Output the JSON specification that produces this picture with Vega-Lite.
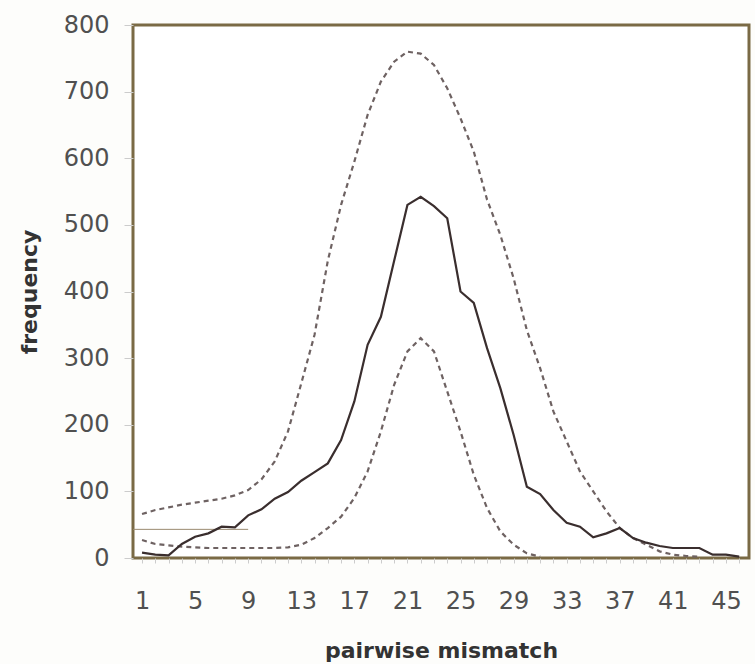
{
  "$schema": "https://vega.github.io/schema/vega-lite/v6.json",
  "width": 616,
  "height": 533,
  "autosize": "none",
  "padding": {"left": 133, "top": 25, "right": 6, "bottom": 106},
  "background": "#fdfdfb",
  "config": {
    "view": {"stroke": "#7a6a45", "strokeWidth": 3, "fill": "white"},
    "font": "DejaVu Sans"
  },
  "datasets": {
    "obs": [
      {"k":1,"v":8},{"k":2,"v":5},{"k":3,"v":4},{"k":4,"v":21},{"k":5,"v":32},{"k":6,"v":37},{"k":7,"v":47},{"k":8,"v":46},{"k":9,"v":64},{"k":10,"v":73},
      {"k":11,"v":89},{"k":12,"v":99},{"k":13,"v":116},{"k":14,"v":129},{"k":15,"v":142},{"k":16,"v":177},{"k":17,"v":235},{"k":18,"v":320},{"k":19,"v":362},{"k":20,"v":446},
      {"k":21,"v":530},{"k":22,"v":542},{"k":23,"v":528},{"k":24,"v":510},{"k":25,"v":400},{"k":26,"v":383},{"k":27,"v":315},{"k":28,"v":255},{"k":29,"v":185},{"k":30,"v":107},
      {"k":31,"v":96},{"k":32,"v":72},{"k":33,"v":53},{"k":34,"v":47},{"k":35,"v":31},{"k":36,"v":37},{"k":37,"v":45},{"k":38,"v":30},{"k":39,"v":23},{"k":40,"v":18},
      {"k":41,"v":15},{"k":42,"v":15},{"k":43,"v":15},{"k":44,"v":5},{"k":45,"v":5},{"k":46,"v":2}
    ],
    "upper": [
      {"k":1,"v":66},{"k":2,"v":72},{"k":3,"v":76},{"k":4,"v":80},{"k":5,"v":83},{"k":6,"v":86},{"k":7,"v":89},{"k":8,"v":94},{"k":9,"v":102},{"k":10,"v":118},
      {"k":11,"v":145},{"k":12,"v":190},{"k":13,"v":262},{"k":14,"v":335},{"k":15,"v":446},{"k":16,"v":530},{"k":17,"v":595},{"k":18,"v":665},{"k":19,"v":715},{"k":20,"v":745},
      {"k":21,"v":760},{"k":22,"v":757},{"k":23,"v":740},{"k":24,"v":705},{"k":25,"v":660},{"k":26,"v":610},{"k":27,"v":538},{"k":28,"v":485},{"k":29,"v":420},{"k":30,"v":342},
      {"k":31,"v":285},{"k":32,"v":220},{"k":33,"v":175},{"k":34,"v":130},{"k":35,"v":100},{"k":36,"v":70},{"k":37,"v":45},{"k":38,"v":30},{"k":39,"v":20},{"k":40,"v":10},
      {"k":41,"v":5},{"k":42,"v":3},{"k":43,"v":2}
    ],
    "lower": [
      {"k":1,"v":27},{"k":2,"v":21},{"k":3,"v":19},{"k":4,"v":17},{"k":5,"v":16},{"k":6,"v":15},{"k":7,"v":15},{"k":8,"v":15},{"k":9,"v":15},{"k":10,"v":15},
      {"k":11,"v":15},{"k":12,"v":16},{"k":13,"v":20},{"k":14,"v":30},{"k":15,"v":45},{"k":16,"v":62},{"k":17,"v":90},{"k":18,"v":130},{"k":19,"v":190},{"k":20,"v":260},
      {"k":21,"v":310},{"k":22,"v":330},{"k":23,"v":310},{"k":24,"v":250},{"k":25,"v":190},{"k":26,"v":125},{"k":27,"v":75},{"k":28,"v":40},{"k":29,"v":20},{"k":30,"v":7},{"k":31,"v":2}
    ],
    "ref": [{"x0": 0.32, "x1": 9, "y": 43}]
  },
  "encoding": {
    "x": {
      "field": "k", "type": "quantitative",
      "scale": {"domain": [0.32, 46.74], "nice": false, "zero": false},
      "axis": {
        "values": [1,2,3,4,5,6,7,8,9,10,11,12,13,14,15,16,17,18,19,20,21,22,23,24,25,26,27,28,29,30,31,32,33,34,35,36,37,38,39,40,41,42,43,44,45,46],
        "labelExpr": "(datum.value - 1) % 4 == 0 ? datum.label : ''",
        "title": "pairwise mismatch",
        "titleFontSize": 22, "titleFontWeight": "bold", "titleColor": "#333333", "titlePadding": 27,
        "labelFontSize": 24, "labelColor": "#505050", "labelPadding": 26, "labelFlush": false, "labelOverlap": false,
        "tickSize": 5, "tickColor": "#cccccc", "domain": false, "grid": false
      }
    },
    "y": {
      "field": "v", "type": "quantitative",
      "scale": {"domain": [0, 800], "nice": false},
      "axis": {
        "values": [0,100,200,300,400,500,600,700,800],
        "title": "frequency",
        "titleFontSize": 22, "titleFontWeight": "bold", "titleColor": "#333333", "titlePadding": 22,
        "labelFontSize": 24, "labelColor": "#505050", "labelPadding": 15,
        "tickSize": 9, "tickColor": "#cccccc", "domain": false, "grid": false
      }
    }
  },
  "layer": [
    {
      "data": {"name": "ref"},
      "mark": {"type": "rule", "color": "#9a8a70", "strokeWidth": 1},
      "encoding": {
        "x": {"field": "x0", "type": "quantitative"},
        "x2": {"field": "x1"},
        "y": {"field": "y", "type": "quantitative"}
      }
    },
    {
      "data": {"name": "upper"},
      "mark": {"type": "line", "color": "#6e6262", "strokeWidth": 2.2, "strokeDash": [5, 4]}
    },
    {
      "data": {"name": "lower"},
      "mark": {"type": "line", "color": "#6e6262", "strokeWidth": 2.2, "strokeDash": [5, 4]}
    },
    {
      "data": {"name": "obs"},
      "mark": {"type": "line", "color": "#3a2e2e", "strokeWidth": 2.2}
    }
  ]
}
